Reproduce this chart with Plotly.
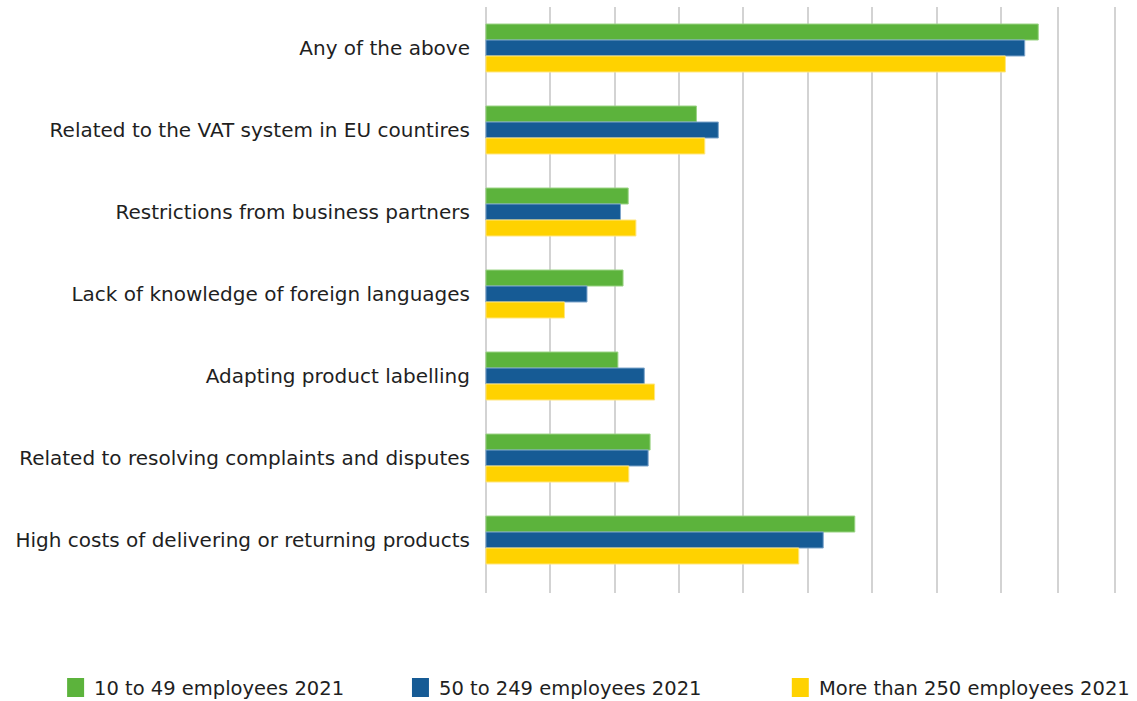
import plotly.graph_objects as go

# Obstacles reported by firms, grouped by company size (share of firms)
categories = [
    "Any of the above",
    "Related to the VAT system in EU countires",
    "Restrictions from business partners",
    "Lack of knowledge of foreign languages",
    "Adapting product labelling",
    "Related to resolving complaints and disputes",
    "High costs of delivering or returning products",
]
small_firms = [85.8, 32.7, 22.1, 21.3, 20.5, 25.5, 57.3]
medium_firms = [83.7, 36.1, 20.9, 15.7, 24.6, 25.2, 52.4]
large_firms = [80.7, 34.0, 23.3, 12.2, 26.2, 22.2, 48.6]

series_names = ["10 to 49 employees 2021", "50 to 249 employees 2021", "More than 250 employees 2021"]
series_values = [small_firms, medium_firms, large_firms]
series_colors = ["#5CB33C", "#165B95", "#FFD200"]
edge_colors = ["#9AD384", "#7FA6CC", "#FFE680"]

grid_positions = [0, 10, 20, 30, 40, 50, 60, 70, 80, 88.87, 97.67]

FONT = "DejaVu Sans, Open Sans, sans-serif"
LABEL_SIZE = 20
LEGEND_SIZE = 19.5
W, H = 1137, 701
PX_PER_UNIT = 6.44
x_min, x_max = -0.3, 98.5
L = 486 + x_min * PX_PER_UNIT
R = W - (486 + x_max * PX_PER_UNIT)
T, B = 7, 108
plot_w = W - L - R
plot_h = H - T - B


def px_to_paper_x(px):
    return (px - L) / plot_w


def px_to_paper_y(py):
    return (H - B - py) / plot_h


fig = go.Figure()
for name, vals, col, edge in zip(series_names, series_values, series_colors, edge_colors):
    fig.add_trace(go.Bar(
        y=categories,
        x=vals,
        name=name,
        orientation="h",
        marker=dict(color=col, line=dict(color=edge, width=1)),
        showlegend=False,
    ))

# Legend drawn as swatches + labels along the bottom
legend_swatch_left = [67, 412, 792]
legend_text_left = [92, 437, 817]
shapes = []
annotations = []
for name, col, sx, tx in zip(series_names, series_colors, legend_swatch_left, legend_text_left):
    shapes.append(dict(
        type="rect", xref="paper", yref="paper",
        x0=px_to_paper_x(sx), x1=px_to_paper_x(sx + 17),
        y0=px_to_paper_y(697), y1=px_to_paper_y(678),
        fillcolor=col, line=dict(width=0),
    ))
    annotations.append(dict(
        text=name, xref="paper", yref="paper",
        x=px_to_paper_x(tx), y=px_to_paper_y(688),
        xanchor="left", yanchor="middle", showarrow=False,
        font=dict(family=FONT, size=LEGEND_SIZE, color="#1f1f1f"),
    ))

fig.update_layout(
    width=W, height=H,
    margin=dict(l=L, r=R, t=T, b=B, pad=0),
    paper_bgcolor="white",
    plot_bgcolor="white",
    barmode="group",
    bargap=0.415,
    bargroupgap=0,
    shapes=shapes,
    annotations=annotations,
    font=dict(family=FONT, size=LABEL_SIZE, color="#1f1f1f"),
)
fig.update_xaxes(
    range=[x_min, x_max],
    tickmode="array",
    tickvals=grid_positions,
    showticklabels=False,
    showgrid=True,
    gridcolor="#d3d3d3",
    gridwidth=1.5,
    zeroline=False,
    showline=False,
)
fig.update_yaxes(
    type="category",
    categoryorder="array",
    categoryarray=categories,
    range=[6.646, -0.5],
    showgrid=False,
    zeroline=False,
    showline=False,
    ticks="",
    ticklabelstandoff=13,
    tickfont=dict(family=FONT, size=LABEL_SIZE, color="#1f1f1f"),
)

fig.write_html("out.html")
